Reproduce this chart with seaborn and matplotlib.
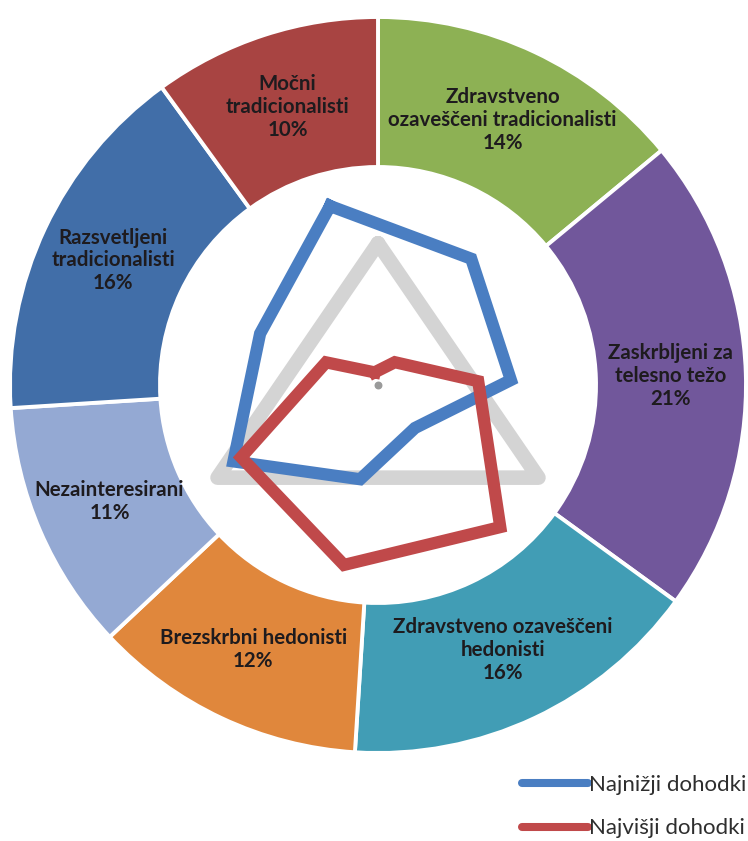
import numpy as np
import pandas as pd
import matplotlib
matplotlib.use("Agg")
import matplotlib.pyplot as plt
import seaborn as sns

# ---- data ----
segments = ["Zdravstveno\nozaveščeni tradicionalisti",
            "Zaskrbljeni za\ntelesno težo",
            "Zdravstveno ozaveščeni\nhedonisti",
            "Brezskrbni hedonisti",
            "Nezainteresirani",
            "Razsvetljeni\ntradicionalisti",
            "Močni\ntradicionalisti"]
shares = [14, 21, 16, 12, 11, 16, 10]
seg_colors = ["#8DB154", "#71579B", "#419DB5", "#E0873C", "#94A9D3", "#416EA8", "#A84442"]

# radar (7 axes), values on a scale where 100 = inner edge of ring
radar_axes = list(range(7))
lowest_income = [85, 72, 61, 26, 44, 75, 59]
highest_income = [6, 13, 46, 86, 84, 71, 26]
series_names = ["Najnižji dohodki", "Najvišji dohodki"]
series_colors = ["#4A7EC2", "#C0494A"]

# reference triangle (3 axes)
tri_axes = [0, 1, 2]
tri_values = [65, 85, 85]

sns.set_theme(style="white")
plt.rcParams["font.family"] = ["Lato", "DejaVu Sans"]

W, H = 748, 841
fig = plt.figure(figsize=(W / 100, H / 100), dpi=100)
cx, cy, R = 378, 385, 368
rect = [(cx - R) / W, (H - cy - R) / H, 2 * R / W, 2 * R / H]

ax = fig.add_axes(rect)
wedges, _ = ax.pie(shares, colors=seg_colors, startangle=90, counterclock=False,
                   radius=1.0,
                   wedgeprops=dict(width=0.4076, edgecolor="white", linewidth=2.8))
ax.set_xlim(-1, 1)
ax.set_ylim(-1, 1)
ax.set_aspect("equal")
ax.axis("off")

label_r = 0.795
for w, name, s in zip(wedges, segments, shares):
    ang = np.deg2rad((w.theta1 + w.theta2) / 2)
    ax.text(label_r * np.cos(ang), label_r * np.sin(ang), f"{name}\n{s}%",
            ha="center", va="center", fontsize=14.8, fontweight="bold",
            color="#1E1B1E", linespacing=1.18, multialignment="center")

# radar overlay
pax = fig.add_axes(rect, projection="polar")
pax.set_theta_zero_location("N")
pax.set_theta_direction(-1)
pax.patch.set_alpha(0)
rmax = 100 * R / 218
pax.set_ylim(0, rmax)

offset = -15.0
def theta7(i):
    return np.deg2rad(offset + i * 360.0 / 7)

tri_df = pd.DataFrame({"theta": [np.deg2rad(i * 120.0) for i in tri_axes + [tri_axes[0]]],
                       "r": tri_values + [tri_values[0]]})
sns.lineplot(data=tri_df, x="theta", y="r", sort=False, estimator=None, ax=pax,
             color="#D4D4D4", linewidth=10.5, solid_joinstyle="round",
             solid_capstyle="round", legend=False)

handles = []
for vals, col, name in zip([lowest_income, highest_income], series_colors, series_names):
    df = pd.DataFrame({"theta": [theta7(i) for i in radar_axes + [radar_axes[0]]],
                       "r": vals + [vals[0]]})
    sns.lineplot(data=df, x="theta", y="r", sort=False, estimator=None, ax=pax, color=col,
                 linewidth=8.8, solid_joinstyle="miter", solid_capstyle="projecting",
                 legend=False)
    handles.append(plt.Line2D([], [], color=col, linewidth=5.8, solid_capstyle="round", label=name))

pax.scatter([0], [0], s=22, color="#9A9A9A", zorder=5)
pax.set_xticks([])
pax.set_yticks([])
pax.grid(False)
pax.spines["polar"].set_visible(False)
pax.set_xlabel("")
pax.set_ylabel("")

leg = fig.legend(handles=handles, loc="upper left", bbox_to_anchor=(522 / W, 1 - 775 / H),
                 frameon=False, fontsize=16, handlelength=2.95, handletextpad=0.05,
                 labelspacing=1.05, borderpad=0, borderaxespad=0)
for t in leg.get_texts():
    t.set_color("#2E2E2E")

fig.savefig("out.png", dpi=100, facecolor="white")
